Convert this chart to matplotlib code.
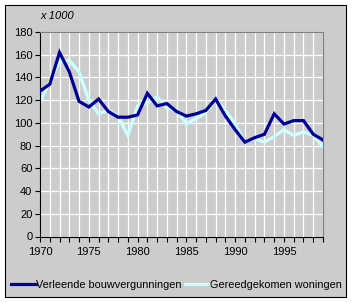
import matplotlib
matplotlib.use("Agg")
import matplotlib.pyplot as plt
from matplotlib.patches import Rectangle

plt.rcParams['font.family'] = ['Liberation Sans', 'DejaVu Sans']

years = list(range(1970, 2000))
vergunningen = [128, 134, 162, 145, 119, 114, 121, 110, 105, 105,
                107, 126, 115, 117, 110, 106, 108, 111, 121, 106,
                94, 83, 87, 90, 108, 99, 102, 102, 90, 85]
gereed = [118, 136, 154, 155, 145, 120, 108, 111, 106, 89,
          115, 118, 123, 113, 111, 99, 104, 109, 120, 111,
          99, 83, 86, 83, 88, 94, 89, 92, 89, 79]
series_names = ['Verleende bouwvergunningen', 'Gereedgekomen woningen']
y_ticks = list(range(0, 181, 20))
x_labels = [1970, 1975, 1980, 1985, 1990, 1995]

W, H = 353, 302
fig = plt.figure(figsize=(W / 100, H / 100), dpi=100)
fig.patch.set_facecolor('white')
bg = '#CCCCCC'
fig.patches.append(Rectangle((5 / W, 1 - 297 / H), 341 / W, 292 / H,
                             transform=fig.transFigure, facecolor=bg,
                             edgecolor='black', linewidth=0.8, zorder=-5))

ax = fig.add_axes([40 / W, 1 - 236.5 / H, 283 / W, 204.5 / H])
ax.set_zorder(2)
ax.set_facecolor(bg)
ax.plot(years, vergunningen, color='#000099', lw=2.3, label=series_names[0],
        solid_joinstyle='miter', zorder=3)
ax.plot(years, gereed, color='#CCFFFF', lw=2.3, label=series_names[1],
        solid_joinstyle='miter', zorder=2)
ax.set_xlim(1970, 1999)
ax.set_ylim(0, 180)
ax.set_yticks(y_ticks)
ax.set_xticks(years)
ax.set_xticklabels([str(y) if y in x_labels else '' for y in years])
ax.grid(True, color='white', linewidth=0.9)
ax.set_axisbelow(True)
for s in ['top', 'right']:
    ax.spines[s].set_color('#808080')
    ax.spines[s].set_linewidth(0.8)
for s in ['left', 'bottom']:
    ax.spines[s].set_color('black')
    ax.spines[s].set_linewidth(0.8)
ax.tick_params(direction='out', length=3.5, width=0.8, colors='black',
               labelsize=8, pad=2)
ax.tick_params(axis='x', pad=4)

fig.text(40 / W, 1 - 16 / H, 'x 1000', fontsize=8, style='italic',
         ha='left', va='center')

leg = fig.legend(loc='center', bbox_to_anchor=(176.5 / W, 1 - 285 / H), ncol=2,
                 frameon=False, fontsize=7.8, handlelength=2.3, handletextpad=0.0,
                 columnspacing=0.3, borderaxespad=0, borderpad=0)
leg.set_zorder(3)

fig.savefig('out.png', dpi=100, facecolor='white')
